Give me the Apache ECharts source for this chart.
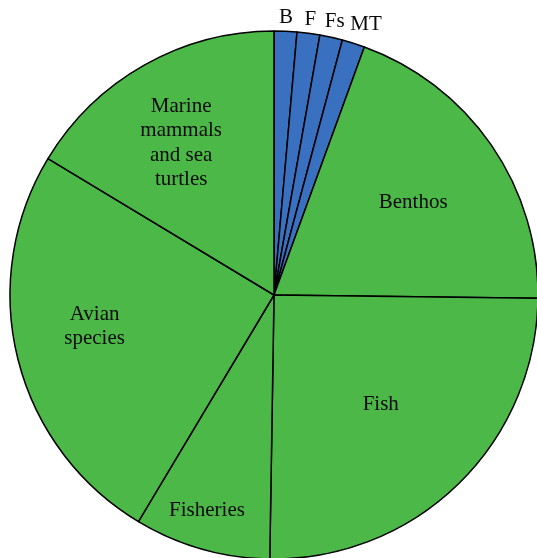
<!DOCTYPE html>
<html><head><meta charset="utf-8">
<script src="https://cdn.jsdelivr.net/npm/echarts@6/dist/echarts.min.js"></script>
<style>html,body{margin:0;padding:0;background:#fff;}#c{width:537px;height:558px;}</style>
</head><body><div id="c"></div>
<script>
var categories = ['B', 'F', 'Fs', 'MT', 'Benthos', 'Fish', 'Fisheries', 'Avian\nspecies', 'Marine\nmammals\nand sea\nturtles'];
var values = [1.39, 1.39, 1.39, 1.39, 19.64, 25.06, 8.33, 25.06, 16.36];
var groupColors = ['#3a70c0', '#3a70c0', '#3a70c0', '#3a70c0', '#4cb848', '#4cb848', '#4cb848', '#4cb848', '#4cb848'];
// label placement: radial fraction of radius, and angular nudge in degrees
var labelRadius = [1.052, 1.054, 1.062, 1.082, 0.634, 0.58, 0.853, 0.69, 0.674];
var labelAngleNudge = [0, 0, 0, 1.3, 0.9, 0, 1.4, 4, -2];

var CX = 274, CY = 295, R = 264;
var total = values.reduce(function(a, b){ return a + b; }, 0);
var mids = [], acc = 0;
values.forEach(function(v){ mids.push((acc + v / 2) / total * 2 * Math.PI); acc += v; });

var chart = echarts.init(document.getElementById('c'));
chart.setOption({
  animation: false,
  series: [{
    type: 'pie',
    center: [CX, CY],
    radius: [0, R],
    startAngle: 90,
    clockwise: true,
    avoidLabelOverlap: false,
    data: categories.map(function(c, i){
      return { name: c, value: values[i], itemStyle: { color: groupColors[i] } };
    }),
    itemStyle: { borderColor: '#000', borderWidth: 1.5 },
    label: {
      show: true,
      position: 'inside',
      formatter: '{b}',
      fontFamily: 'Liberation Serif',
      fontSize: 21,
      lineHeight: 24.5,
      color: '#0a0a0a',
      align: 'center'
    },
    labelLine: { show: false },
    labelLayout: function(p){
      var a = mids[p.dataIndex] + labelAngleNudge[p.dataIndex] * Math.PI / 180, f = labelRadius[p.dataIndex];
      return {
        x: CX + f * R * Math.sin(a),
        y: CY - f * R * Math.cos(a),
        align: 'center',
        verticalAlign: 'middle'
      };
    }
  }]
});
</script></body></html>
